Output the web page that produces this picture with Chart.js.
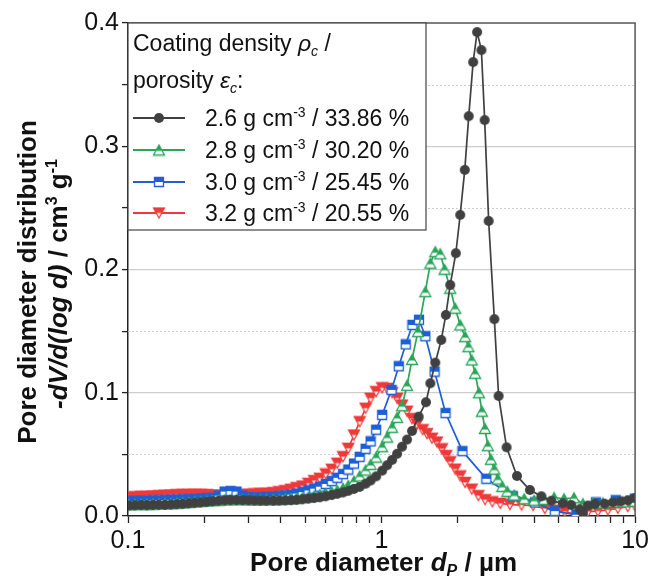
<!DOCTYPE html>
<html>
<head>
<meta charset="utf-8">
<script src="https://cdn.jsdelivr.net/npm/chart.js@4.4.1/dist/chart.umd.min.js"></script>
<style>
  html, body { margin: 0; padding: 0; background: #fff; }
  #wrap { width: 652px; height: 577px; }
</style>
</head>
<body>
<div id="wrap"><canvas id="chart_poreDiameter"></canvas></div>
<script>
// pore diameter (µm) and -dV/d(log d) (cm3/g)
const lowX = [
  0.1009, 0.1065, 0.1125, 0.1187, 0.1254, 0.1323, 0.1397, 0.1475, 0.1557, 0.1644,
  0.1736, 0.1833, 0.1935, 0.2043, 0.2156, 0.2277, 0.2404, 0.2538, 0.2679, 0.2828,
  0.2986, 0.3152, 0.3328, 0.3514, 0.3743, 0.3952, 0.4172, 0.4393, 0.4621, 0.4878,
  0.5150, 0.5423, 0.5709, 0.6028, 0.6364, 0.6694, 0.7048, 0.7394, 0.7785, 0.8197,
  0.8653, 0.9054, 0.9524, 1.0055, 1.052, 1.1006, 1.1515, 1.2047, 1.2604, 1.3186
];

// 2.6 g/cm3
const x26 = lowX.concat([
  1.4010, 1.4966, 1.5573, 1.6293, 1.7201, 1.7932, 1.8660, 1.9630, 2.0425, 2.1292,
  2.2076, 2.2972, 2.3818, 2.4762, 2.5512, 2.6451, 2.7850, 2.8955, 3.1127, 3.4197,
  3.8465, 4.2713, 4.6771, 5.198, 5.602, 6.044, 6.227, 6.515, 6.941, 7.577,
  8.168, 8.780, 9.354, 9.964
]);
const y26 = [
  .0085, .0087, .0089, .0088, .0090, .0091, .0090, .0093, .0096, .0099,
  .0103, .0107, .0111, .0115, .0120, .0124, .0127, .0129, .0130, .0129,
  .0128, .0126, .0125, .0124, .0124, .0125, .0126, .0128, .0131, .0136,
  .0141, .0146, .0152, .0160, .0170, .0180, .0191, .0204, .0220, .0236,
  .0262, .0288, .0322, .0368, .0412, .0455, .0505, .0562, .0620, .0690,
  .0806, .0923, .1077, .1244, .1429, .1631, .1875, .2132, .2443, .2808,
  .3244, .3683, .3926, .3780, .3212, .2394, .1597, .0974, .0557, .0325,
  .0211, .0160, .0124, .0103, .0089, .0055, .0025, .0085, .0097, .0100,
  .0110, .0118, .0128, .0145
];

// 2.8 g/cm3
const x28 = lowX.concat([
  1.3921, 1.4885, 1.5573, 1.6293, 1.7046, 1.7722, 1.8660, 1.9523, 2.0425, 2.1369,
  2.2016, 2.2684, 2.3392, 2.4209, 2.4874, 2.5558, 2.6261, 2.6983, 2.7850, 2.8747,
  2.9941, 3.1325, 3.3375, 3.6534, 3.9986, 4.377, 4.7912, 5.245, 5.740, 6.227,
  6.816, 7.460, 8.168, 8.940, 9.964
]);
const y28 = [
  .0092, .0094, .0095, .0096, .0097, .0098, .0099, .0101, .0104, .0107,
  .0110, .0114, .0118, .0122, .0126, .0129, .0131, .0132, .0133, .0133,
  .0132, .0131, .0131, .0132, .0133, .0135, .0138, .0141, .0145, .0150,
  .0156, .0163, .0172, .0183, .0195, .0207, .0225, .0248, .0283, .0325,
  .0373, .0418, .0478, .0562, .0640, .0720, .0800, .0895, .1060, .1270,
  .1496, .1820, .2051, .2145, .2127, .2002, .1848, .1686, .1550, .1455,
  .1374, .1266, .1158, .1000, .0850, .0710, .0570, .0460, .0380, .0300,
  .0240, .0200, .0170, .0140, .0128, .0135, .0150, .0140, .0148, .0100,
  .0105, .0106, .0110, .0115, .0120
];

// 3.0 g/cm3
const x30 = lowX.slice(0, 44).concat([
  1.0946, 1.1693, 1.2456, 1.3234, 1.4048, 1.4885, 1.6190, 1.7883, 2.0854, 2.5907,
  3.2925, 4.0240, 4.8217, 5.861, 7.004, 8.391, 9.964
]);
const y30 = [
  .0120, .0121, .0123, .0124, .0126, .0127, .0129, .0131, .0133, .0135,
  .0137, .0139, .0141, .0143, .0146, .0165, .0198, .0202, .0198, .0165,
  .0152, .0150, .0151, .0153, .0156, .0160, .0166, .0173, .0182, .0194,
  .0207, .0222, .0238, .0260, .0283, .0310, .0340, .0377, .0425, .0480,
  .0545, .0605, .0700, .0820,
  .1023, .1215, .1392, .1550, .1592, .1458, .1171, .0835, .0526, .0302,
  .0161, .0110, .0040, .0010, .0110, .0128, .0140
];

// 3.2 g/cm3
const x32 = lowX.concat([
  1.3796, 1.4526, 1.5102, 1.5800, 1.6531, 1.7295, 1.7997, 1.8660, 1.9523, 2.0425,
  2.1369, 2.2684, 2.4100, 2.5605, 2.7352, 2.9404, 3.2099, 3.5648, 3.9626, 4.4047,
  4.7912, 5.2777, 5.952, 6.515, 7.132, 7.807, 8.545, 9.354, 9.964
]);
const y32 = [
  .0152, .0155, .0158, .0160, .0162, .0165, .0168, .0170, .0172, .0174,
  .0175, .0176, .0175, .0173, .0170, .0168, .0167, .0168, .0170, .0173,
  .0176, .0179, .0182, .0185, .0189, .0197, .0205, .0217, .0230, .0243,
  .0265, .0287, .0306, .0341, .0379, .0428, .0481, .0549, .0657, .0765,
  .0874, .0955, .1009, .1040, .1036, .1000, .0955, .0900, .0850, .0790,
  .0745, .0700, .0668, .0631, .0600, .0545, .0490, .0440, .0380, .0325,
  .0272, .0218, .0165, .0132, .0115, .0102, .0092, .0089, .0085, .0060,
  .0047, .0035, .0008, .0035, .0040, .0049, .0062, .0076, .0085
];

const densities = ['2.6', '2.8', '3.0', '3.2'];
const porosities = ['33.86', '30.20', '25.45', '20.55'];
const colors = ['#404040', '#2aa65a', '#1f5fd6', '#ef3a3a'];

const xTicks = [0.1, 0.2, 0.3, 0.4, 0.5, 0.6, 0.7, 0.8, 0.9, 1, 2, 3, 4, 5, 6, 7, 8, 9, 10];
const xLabelled = [0.1, 1, 10];
const yTicks = [0, 0.05, 0.1, 0.15, 0.2, 0.25, 0.3, 0.35, 0.4];
const yLabelled = [0, 0.1, 0.2, 0.3, 0.4];
const yDotted = [0.05, 0.15, 0.25, 0.35];

const FONT = "'Liberation Sans', Arial, sans-serif";

function pts(xs, ys) {
  return xs.map((x, i) => ({ x: x, y: ys[i] }));
}

// Origin style half filled markers (top part coloured)
function makeMarker(shape, color, w, h, split) {
  const c = document.createElement('canvas');
  c.width = w + 3; c.height = h + 3;
  const g = c.getContext('2d');
  const cx = c.width / 2, cy = c.height / 2;
  const path = () => {
    g.beginPath();
    if (shape === 'up') {
      g.moveTo(cx, cy - h / 2); g.lineTo(cx + w / 2, cy + h / 2); g.lineTo(cx - w / 2, cy + h / 2);
    } else if (shape === 'down') {
      g.moveTo(cx - w / 2, cy - h / 2); g.lineTo(cx + w / 2, cy - h / 2); g.lineTo(cx, cy + h / 2);
    } else {
      g.rect(cx - w / 2, cy - h / 2, w, h);
    }
    g.closePath();
  };
  path(); g.fillStyle = '#fff'; g.fill();
  g.save();
  g.beginPath(); g.rect(0, 0, c.width, cy - h / 2 + h * split); g.clip();
  path(); g.fillStyle = color; g.fill();
  g.restore();
  path(); g.strokeStyle = color; g.lineWidth = 1.3; g.stroke();
  return c;
}

function makeDot(color, r) {
  const c = document.createElement('canvas');
  c.width = c.height = Math.ceil(r * 2 + 2);
  const g = c.getContext('2d');
  g.beginPath(); g.arc(c.width / 2, c.height / 2, r, 0, Math.PI * 2);
  g.fillStyle = color; g.fill();
  return c;
}

const markers = [
  makeDot(colors[0], 5),
  makeMarker('up', colors[1], 11, 10, 0.6),
  makeMarker('square', colors[2], 9, 9, 0.5),
  makeMarker('down', colors[3], 11, 10, 0.5)
];

function fontFor(s, size, bold) {
  const sz = (s.sup || s.sub) ? Math.round(size * 0.62) : size;
  return (s.i ? 'italic ' : '') + (bold ? 'bold ' : '') + sz + 'px ' + FONT;
}

function drawRich(ctx, segs, x, y, size, bold, align) {
  let w = 0;
  segs.forEach(s => { ctx.font = fontFor(s, size, bold); w += ctx.measureText(s.t).width; });
  let cx = align === 'center' ? x - w / 2 : x;
  ctx.textBaseline = 'alphabetic';
  ctx.textAlign = 'left';
  segs.forEach(s => {
    ctx.font = fontFor(s, size, bold);
    const dy = s.sup ? -size * 0.38 : (s.sub ? size * 0.2 : 0);
    ctx.fillText(s.t, cx, y + dy);
    cx += ctx.measureText(s.t).width;
  });
}

const near = (v, list) => list.some(t => Math.abs(t - v) < 1e-9);

const decorPlugin = {
  id: 'decor',
  beforeDraw(chart) {
    const ctx = chart.ctx;
    ctx.save();
    ctx.fillStyle = '#fff';
    ctx.fillRect(0, 0, chart.width, chart.height);
    ctx.restore();
  },
  beforeDatasetsDraw(chart) {
    const { ctx, chartArea: a } = chart;
    const y = chart.scales.y;
    ctx.save();
    ctx.strokeStyle = '#cdcdcd';
    ctx.lineWidth = 1;
    ctx.setLineDash([2, 2]);
    yDotted.forEach(v => {
      const py = Math.round(y.getPixelForValue(v)) + 0.5;
      ctx.beginPath(); ctx.moveTo(a.left, py); ctx.lineTo(a.right, py); ctx.stroke();
    });
    ctx.restore();
  },
  afterDraw(chart) {
    const { ctx, chartArea: a } = chart;
    ctx.save();
    // top and right frame
    ctx.strokeStyle = '#555';
    ctx.lineWidth = 1.5;
    ctx.beginPath();
    ctx.moveTo(a.left, a.top); ctx.lineTo(a.right, a.top); ctx.lineTo(a.right, a.bottom);
    ctx.stroke();

    // legend box
    const bx = a.left, by = a.top, bw = 298, bh = 207;
    ctx.fillStyle = '#fff';
    ctx.fillRect(bx, by, bw, bh);
    ctx.strokeStyle = '#444';
    ctx.lineWidth = 1.2;
    ctx.strokeRect(bx, by, bw, bh);
    ctx.fillStyle = '#111';
    const ls = 23;
    drawRich(ctx, [{ t: 'Coating density ' }, { t: 'ρ', i: true }, { t: 'c', i: true, sub: true }, { t: ' /' }],
      bx + 5, by + 28, ls, false, 'left');
    drawRich(ctx, [{ t: 'porosity ' }, { t: 'ε', i: true }, { t: 'c', i: true, sub: true }, { t: ':' }],
      bx + 5, by + 65, ls, false, 'left');
    const rows = [95, 127, 159, 190];
    chart.data.datasets.forEach((ds, i) => {
      const cy = by + rows[i];
      ctx.strokeStyle = colors[i];
      ctx.lineWidth = 1.8;
      ctx.beginPath(); ctx.moveTo(bx + 5, cy); ctx.lineTo(bx + 57, cy); ctx.stroke();
      const m = markers[i];
      ctx.drawImage(m, bx + 31 - m.width / 2, cy - m.height / 2);
      ctx.fillStyle = '#111';
      drawRich(ctx, [{ t: densities[i] + ' g cm' }, { t: '-3', sup: true }, { t: ' / ' + porosities[i] + ' %' }],
        bx + 77, cy + 8, ls, false, 'left');
    });

    // axis titles
    ctx.fillStyle = '#111';
    drawRich(ctx, [{ t: 'Pore diameter ' }, { t: 'd', i: true }, { t: 'P', i: true, sub: true }, { t: ' / µm' }],
      (a.left + a.right) / 2 + 2, 571, 26, true, 'center');
    ctx.save();
    ctx.translate(36, 282);
    ctx.rotate(-Math.PI / 2);
    drawRich(ctx, [{ t: 'Pore diameter distribution' }], 0, 0, 26, true, 'center');
    ctx.restore();
    ctx.save();
    ctx.translate(67, 284);
    ctx.rotate(-Math.PI / 2);
    drawRich(ctx, [{ t: '-dV/d(log d)', i: true }, { t: ' / cm' }, { t: '3', sup: true }, { t: ' g' }, { t: '-1', sup: true }],
      0, 0, 26, true, 'center');
    ctx.restore();
    ctx.restore();
  }
};

const seriesX = [x26, x28, x30, x32];
const seriesY = [y26, y28, y30, y32];

const chart_poreDiameter = new Chart(document.getElementById('chart_poreDiameter'), {
  type: 'scatter',
  data: {
    datasets: densities.map((d, i) => ({
      label: d + ' g cm⁻³ / ' + porosities[i] + ' %',
      data: pts(seriesX[i], seriesY[i]),
      showLine: true,
      borderColor: colors[i],
      backgroundColor: colors[i],
      borderWidth: 1.7,
      pointStyle: markers[i],
      pointRadius: 5,
      tension: 0
    }))
  },
  options: {
    animation: false,
    responsive: true,
    maintainAspectRatio: false,
    devicePixelRatio: 1,
    layout: { padding: { left: 0, right: 14, top: 23, bottom: 0 } },
    plugins: {
      legend: { display: false },
      tooltip: { enabled: false }
    },
    scales: {
      x: {
        type: 'logarithmic',
        min: 0.1,
        max: 10,
        afterBuildTicks: (s) => { s.ticks = xTicks.map(v => ({ value: v })); },
        afterFit: (s) => { s.height = 61; },
        ticks: {
          autoSkip: false,
          maxRotation: 0,
          padding: 3,
          color: '#111',
          font: { family: FONT, size: 25 },
          callback: (v) => near(v, xLabelled) ? String(v) : ''
        },
        grid: { drawOnChartArea: false, tickLength: 7, tickColor: '#222', tickWidth: 1.3 },
        border: { color: '#222', width: 1.5 }
      },
      y: {
        min: 0,
        max: 0.4,
        afterBuildTicks: (s) => { s.ticks = yTicks.map(v => ({ value: v })); },
        afterFit: (s) => { s.width = 128; },
        ticks: {
          autoSkip: false,
          padding: 3,
          color: '#111',
          font: { family: FONT, size: 25 },
          callback: (v) => near(v, yLabelled) ? v.toFixed(1) : ''
        },
        grid: {
          color: (c) => (c.tick && near(c.tick.value, [0.1, 0.2, 0.3])) ? '#cdcdcd' : 'rgba(0,0,0,0)',
          lineWidth: 1.2,
          tickLength: 6,
          tickColor: '#222',
          tickWidth: 1.3
        },
        border: { color: '#222', width: 1.5 }
      }
    }
  },
  plugins: [decorPlugin]
});
</script>
</body>
</html>
